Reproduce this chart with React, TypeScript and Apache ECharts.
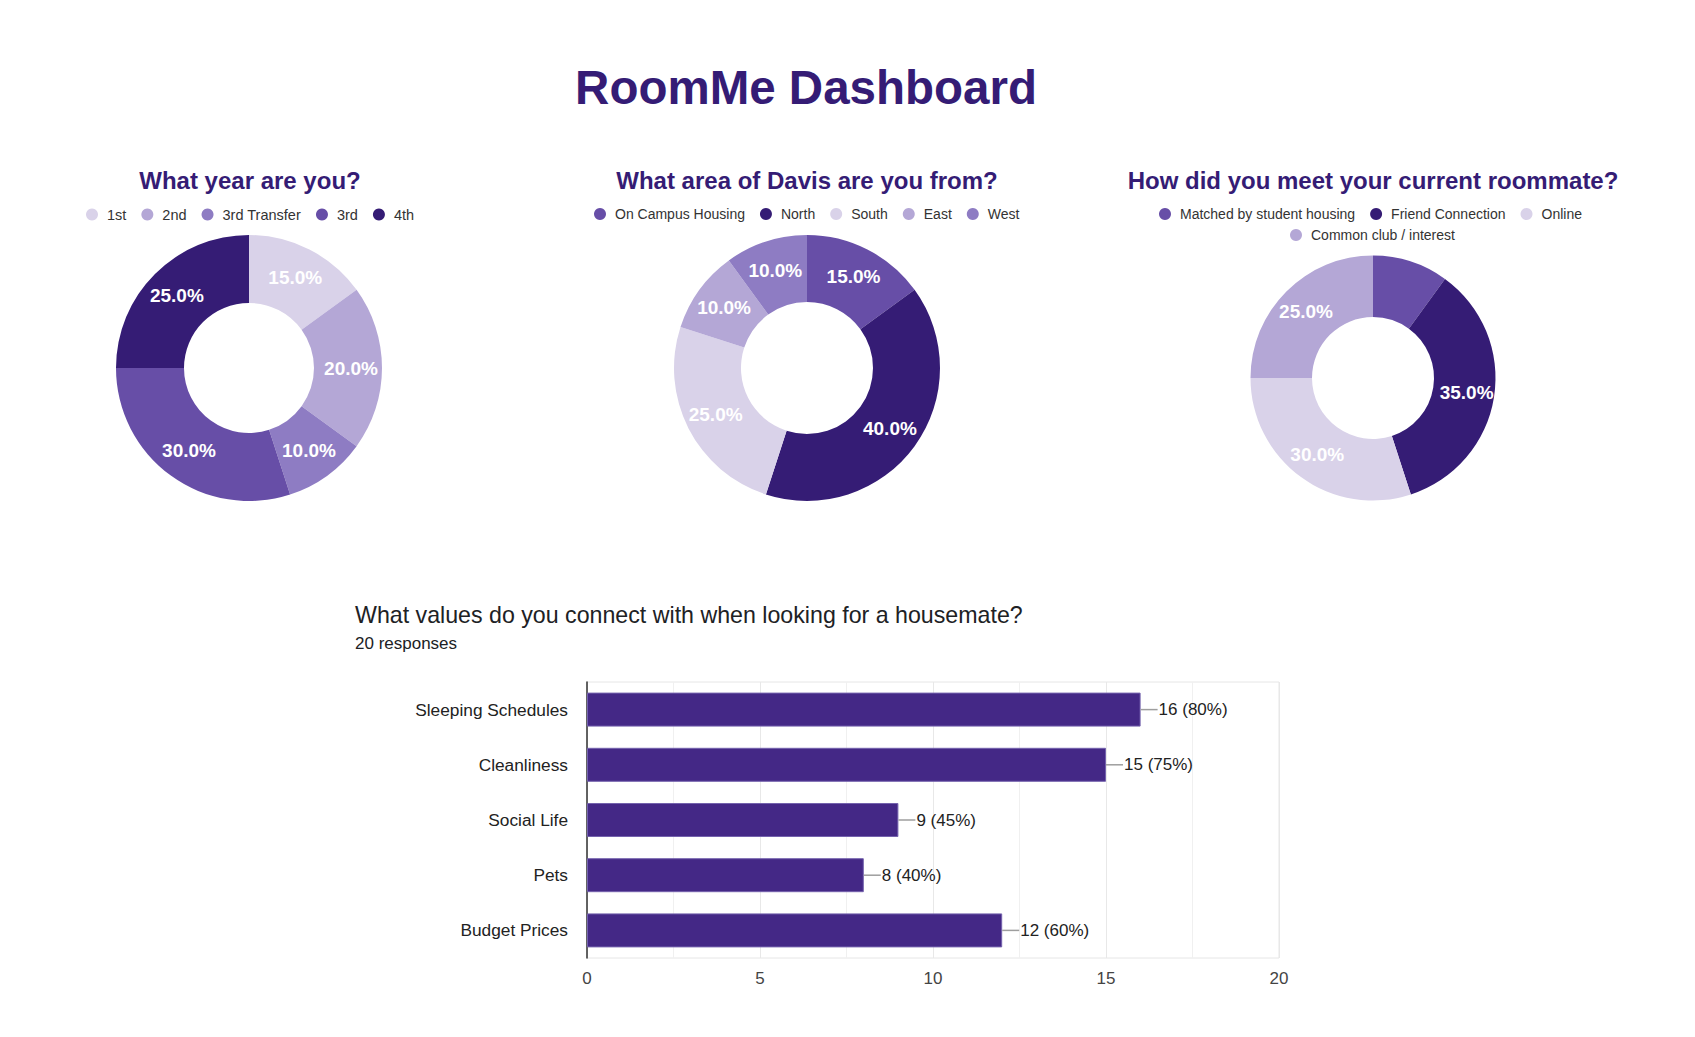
import React, { useEffect, useRef } from "react";
import * as echarts from "echarts";

// ---------- data ----------
const dashboardTitle = "RoomMe Dashboard";

const yearTitle = "What year are you?";
const yearCategories = ["1st", "2nd", "3rd Transfer", "3rd", "4th"];
const yearValues = [15, 20, 10, 30, 25];

const areaTitle = "What area of Davis are you from?";
const areaCategories = ["On Campus Housing", "North", "South", "East", "West"];
const areaValues = [15, 40, 25, 10, 10];

const meetTitle = "How did you meet your current roommate?";
const meetCategories = ["Matched by student housing", "Friend Connection", "Online", "Common club / interest"];
const meetValues = [10, 35, 30, 25];
const meetLabelShown = [false, true, true, true];

const valuesTitle = "What values do you connect with when looking for a housemate?";
const responsesText = "20 responses";
const totalResponses = 20;
const valueCategories = ["Sleeping Schedules", "Cleanliness", "Social Life", "Pets", "Budget Prices"];
const valueCounts = [16, 15, 9, 8, 12];

// ---------- styles ----------
const P1 = "#d9d2e9";
const P2 = "#b4a7d6";
const P3 = "#8e7cc3";
const P4 = "#674ea7";
const P5 = "#351c75";
const yearColors = [P1, P2, P3, P4, P5];
const areaColors = [P4, P5, P1, P2, P3];
const meetColors = [P4, P5, P1, P2];
const TITLE_COLOR = "#351c75";
const FONT = "'Liberation Sans', Arial, sans-serif";
const BAR_COLOR = "#442886";

function pieSeries(center: number[], radius: number[], names: string[], values: number[], colors: string[], shown?: boolean[]) {
  return {
    type: "pie",
    center,
    radius,
    startAngle: 90,
    clockwise: true,
    silent: true,
    avoidLabelOverlap: false,
    label: {
      show: true,
      position: "inside",
      color: "#ffffff",
      fontWeight: "bold",
      fontSize: 19,
      fontFamily: FONT,
      formatter: (p: any) => `${p.percent.toFixed(1)}%`,
    },
    labelLine: { show: false },
    itemStyle: { borderWidth: 0 },
    emphasis: { disabled: true },
    data: names.map((n, i) => ({
      name: n,
      value: values[i],
      itemStyle: { color: colors[i] },
      label: { show: shown ? shown[i] : true },
    })),
  };
}

function legend(names: string[], left: number, top: number, fontSize: number) {
  return {
    data: names,
    left,
    top,
    orient: "horizontal",
    padding: 0,
    icon: "circle",
    itemWidth: 12,
    itemHeight: 12,
    itemGap: 15,
    selectedMode: false,
    textStyle: { fontSize, color: "#333", fontFamily: FONT, padding: [0, 4, 0, 4] },
  };
}

function textEl(text: string, x: number, y: number, size: number, color: string, bold: boolean, align = "center") {
  return {
    type: "text",
    x,
    y,
    silent: true,
    style: {
      text,
      fill: color,
      font: `${bold ? "bold " : ""}${size}px ${FONT}`,
      textAlign: align,
      textVerticalAlign: "middle",
    },
  };
}

export default function App() {
  const ref = useRef<HTMLDivElement>(null);
  useEffect(() => {
    if (!ref.current) return;
    const chart = echarts.init(ref.current, null, { renderer: "svg" });
    const option: any = {
      animation: false,
      backgroundColor: "#ffffff",
      textStyle: { fontFamily: FONT },
      graphic: [
        textEl(dashboardTitle, 806, 87, 47.5, TITLE_COLOR, true),
        textEl(yearTitle, 250, 180, 24, TITLE_COLOR, true),
        textEl(areaTitle, 807, 180, 24, TITLE_COLOR, true),
        textEl(meetTitle, 1373, 180, 24, TITLE_COLOR, true),
        textEl(valuesTitle, 355, 615, 23.2, "#202124", false, "left"),
        textEl(responsesText, 355, 643, 17, "#202124", false, "left"),
      ],
      legend: [
        legend(yearCategories, 86, 207, 14.5),
        legend(areaCategories, 594, 207, 14),
        legend(meetCategories.slice(0, 3), 1159, 207, 14),
        legend(meetCategories.slice(3), 1290, 228, 14),
      ],
      grid: {
        left: 587,
        right: 416,
        top: 682,
        bottom: 79,
        show: true,
        borderColor: "#e6e6e6",
        borderWidth: 1,
      },
      xAxis: {
        type: "value",
        min: 0,
        max: 20,
        interval: 5,
        axisLine: { show: false },
        axisTick: { show: false },
        axisLabel: { fontSize: 17, color: "#444", fontFamily: FONT, margin: 12 },
        splitLine: { show: true, lineStyle: { color: "#e8e8e8", width: 1 } },
        minorTick: { show: false, splitNumber: 2 },
        minorSplitLine: { show: true, lineStyle: { color: "#f0f0f0", width: 1 } },
      },
      yAxis: {
        type: "category",
        inverse: true,
        data: valueCategories,
        axisLine: { show: true, lineStyle: { color: "#333", width: 1.5 } },
        axisTick: { show: false },
        axisLabel: { fontSize: 17.3, color: "#222", fontFamily: FONT, margin: 19 },
      },
      series: [
        pieSeries([249, 368], [65, 133], yearCategories, yearValues, yearColors),
        pieSeries([807, 368], [66, 133], areaCategories, areaValues, areaColors),
        pieSeries([1373, 378], [61, 122.5], meetCategories, meetValues, meetColors, meetLabelShown),
        {
          type: "bar",
          data: valueCounts,
          barWidth: 34,
          silent: true,
          itemStyle: { color: BAR_COLOR, borderColor: "#7462ad", borderWidth: 1 },
          label: {
            show: true,
            position: "right",
            distance: 0,
            formatter: (p: any) => `{l|}{t|${p.value} (${Math.round((p.value / totalResponses) * 100)}%)}`,
            rich: {
              l: { width: 17, height: 1.5, backgroundColor: "#9e9e9e" },
              t: { fontSize: 17, color: "#222", fontFamily: FONT, padding: [0, 0, 0, 1] },
            },
          },
        },
      ],
    };
    chart.setOption(option);
    return () => chart.dispose();
  }, []);
  return <div ref={ref} style={{ position: "fixed", left: 0, top: 0, width: 1695, height: 1037 }} />;
}
